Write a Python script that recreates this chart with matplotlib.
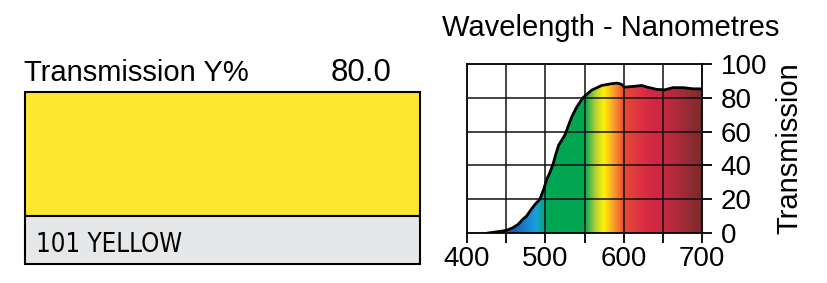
import numpy as np
import matplotlib
matplotlib.use("Agg")
import matplotlib.pyplot as plt
from matplotlib.colors import LinearSegmentedColormap
from matplotlib.patches import Polygon, Rectangle

# filter data
filter_name = "101 YELLOW"
transmission_y = "80.0"
wavelength = [427, 435, 450, 458, 465, 471, 476, 482, 487, 493, 498, 502, 506, 510, 513,
              517, 521, 525, 529, 534, 540, 548, 559, 572, 584, 592, 597, 601, 612, 623,
              630, 642, 652, 663, 676, 689, 700]
transmission = [0, 0.5, 1.5, 3, 5, 8, 10, 14, 17, 20, 26, 32, 36, 41, 46,
                52, 55, 58, 63, 69, 74.5, 80, 84.5, 87.3, 88.3, 88.7, 88, 86.3, 86.7, 87.3,
                86.3, 85, 84.7, 86, 86, 85.3, 85.3]
x_ticks = [400, 450, 500, 550, 600, 650, 700]
x_labels = ["400", "", "500", "", "600", "", "700"]
y_ticks = [0, 20, 40, 60, 80, 100]

# visible spectrum colours behind the curve
spectrum = [(400, "#1a4fa8"), (460, "#1a5fb4"), (488, "#1ba0e0"), (502, "#00a651"),
            (550, "#00a651"), (556, "#4cb54a"), (565, "#b8d334"), (575, "#fff200"),
            (586, "#f9a72b"), (597, "#f0642e"), (600, "#e84a35"), (630, "#d82a45"),
            (650, "#c8283f"), (672, "#a82c3a"), (700, "#7a2a2a")]

plt.rcParams["font.family"] = ["Liberation Sans", "DejaVu Sans"]

W, H = 827, 283
fig = plt.figure(figsize=(W / 100, H / 100), dpi=100)

# left panel in pixel coordinates
bg = fig.add_axes([0, 0, 1, 1])
bg.set_xlim(0, W)
bg.set_ylim(H, 0)
bg.axis("off")
bg.add_patch(Rectangle((24.5, 91.5), 395, 124, facecolor="#fde82f", edgecolor="black", lw=1.5))
bg.add_patch(Rectangle((24.5, 215.5), 395, 48, facecolor="#e6e7e9", edgecolor="black", lw=1.5))
bg.text(24, 81, "Transmission Y%", fontsize=21, va="baseline", ha="left")
bg.text(392, 81, transmission_y, fontsize=22.5, va="baseline", ha="right")
bg.text(36, 252, filter_name, fontsize=18.5, va="baseline", ha="left",
        family="DejaVu Sans", stretch="condensed")
bg.text(611, 36.5, "Wavelength - Nanometres", fontsize=21, va="baseline", ha="center")

# transmission chart
ax = fig.add_axes([467 / W, (H - 233) / H, 235 / W, 169 / H])
ax.set_xlim(400, 700)
ax.set_ylim(0, 100)

pos = [(w - 400) / 300 for w, c in spectrum]
cmap = LinearSegmentedColormap.from_list("spec", list(zip(pos, [c for w, c in spectrum])))
grad = np.linspace(400, 700, 600)[None, :]
im = ax.imshow(grad, extent=[400, 700, 0, 100], aspect="auto", cmap=cmap,
               vmin=400, vmax=700, zorder=1, interpolation="bilinear")
verts = list(zip(wavelength, transmission)) + [(700, 0), (wavelength[0], 0)]
clip = Polygon(verts, closed=True, transform=ax.transData, facecolor="none", edgecolor="none")
ax.add_patch(clip)
im.set_clip_path(clip)
ax.plot(wavelength, transmission, color="black", lw=2, zorder=3)

ax.set_xticks(x_ticks)
ax.set_xticklabels(x_labels)
ax.set_yticks(y_ticks)
ax.grid(True, color="#111111", lw=1.1)
ax.set_axisbelow(False)
for s in ax.spines.values():
    s.set_linewidth(1.3)
ax.yaxis.tick_right()
ax.tick_params(axis="x", length=7.5, width=1.3, labelsize=20, pad=2)
ax.tick_params(axis="y", length=7.5, width=1.3, labelsize=20, pad=6)
ax.yaxis.set_label_position("right")
ax.set_ylabel("Transmission", fontsize=21, labelpad=6)

fig.savefig("out.png", dpi=100)
